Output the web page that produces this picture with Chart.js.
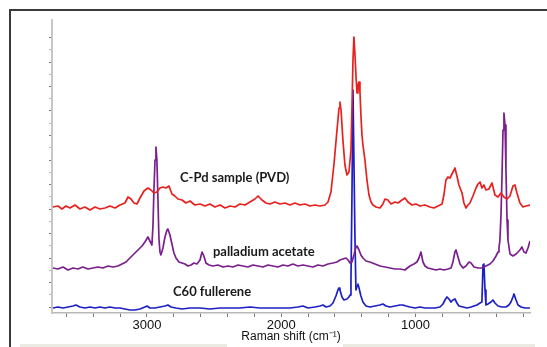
<!DOCTYPE html>
<html>
<head>
<meta charset="utf-8">
<script src="https://cdn.jsdelivr.net/npm/chart.js@4/dist/chart.umd.min.js"></script>
<style>
  html, body { margin: 0; padding: 0; background: #fff; }
  #wrap { position: relative; width: 547px; height: 347px; overflow: hidden; }
  #frame { position: absolute; left: 9px; top: 9px; width: 700px; height: 500px;
           border-top: 2px solid #3a3a3a; border-left: 2px solid #3a3a3a; }
  .shade { position: absolute; top: 344px; height: 3px; background: #ebebe4; }
  canvas { position: absolute; left: 0; top: 0; }
</style>
</head>
<body>
<div id="wrap">
  <div id="frame"></div>
  <div class="shade" style="left:20px;width:207px"></div>
  <div class="shade" style="left:343px;width:192px"></div>
  <canvas id="c" width="547" height="347"></canvas>
</div>
<script>
// ---- Data (Raman shift in cm-1, intensity in arbitrary offset units) ----
const redShift = [3700,3663,3633,3603,3573,3536,3499,3462,3424,3387,
  3350,3313,3276,3238,3201,3164,3141,3119,3097,3074,
  3052,3022,2993,2970,2948,2926,2903,2881,2859,2836,
  2814,2792,2769,2739,2710,2680,2643,2605,2568,2531,
  2494,2456,2419,2382,2345,2308,2270,2233,2196,2173,
  2144,2114,2084,2047,2010,1972,1935,1898,1861,1824,
  1786,1749,1712,1675,1652,1630,1608,1585,1570,1563,
  1555,1541,1526,1511,1496,1481,1474,1466,1459,1451,
  1444,1436,1429,1421,1414,1407,1399,1392,1377,1362,
  1347,1332,1317,1295,1265,1243,1228,1206,1183,1153,
  1131,1101,1079,1057,1027,997,967,930,893,863,
  833,803,789,774,759,744,729,714,707,692,
  677,654,640,625,610,595,573,550,535,520,
  506,491,476,454,431,409,386,364,342,319,
  297,275,260,245,223,200,178,148];
const redIntensity = [106,107,104,107,105,108,104,106,103,106,
  104,105,107,105,108,110,116,114,110,109,
  115,122,125,123,120,121,125,126,125,127,
  119,117,114,113,110,112,108,109,107,109,
  106,108,105,107,106,109,108,111,114,117,
  113,110,109,111,109,110,108,110,108,109,
  107,108,107,108,111,121,148,183,205,211,
  203,173,148,138,141,163,203,253,276,258,
  238,220,228,231,221,198,178,168,153,133,
  118,111,108,106,105,109,114,113,109,111,
  110,113,115,111,108,109,107,108,106,105,
  107,109,118,133,136,135,139,143,145,137,
  128,120,110,105,108,110,117,125,129,131,
  125,128,123,124,130,118,116,120,116,114,
  117,127,128,120,110,106,107,108];

const purpleShift = [3700,3663,3625,3588,3551,3514,3477,3439,3402,3365,
  3328,3290,3253,3216,3186,3156,3127,3097,3067,3037,
  3015,2993,2978,2963,2955,2948,2940,2933,2926,2918,
  2911,2903,2896,2881,2866,2851,2844,2829,2814,2799,
  2784,2762,2739,2717,2695,2672,2650,2628,2605,2590,
  2576,2561,2538,2509,2471,2434,2397,2360,2322,2285,
  2248,2211,2173,2136,2099,2062,2025,1987,1950,1913,
  1876,1838,1801,1764,1727,1689,1652,1615,1585,1563,
  1541,1518,1503,1488,1474,1459,1444,1436,1421,1407,
  1392,1369,1340,1302,1265,1228,1191,1153,1116,1079,
  1042,1012,990,975,960,945,930,908,878,848,
  818,789,759,736,722,707,699,684,669,647,
  625,602,587,565,535,506,476,446,424,401,
  386,379,372,364,357,349,342,334,327,319,
  312,297,275,252,237,223,208,193,178,163,
  148];
const purpleIntensity = [45,44,46,43,45,44,46,44,45,46,
  45,47,46,47,49,51,55,59,63,67,
  71,76,72,68,88,123,153,166,153,113,
  75,61,58,65,76,83,84,78,69,60,
  55,51,50,49,47,48,50,49,53,61,
  57,50,48,47,48,46,47,46,48,47,
  46,48,47,46,48,47,46,48,47,49,
  47,48,47,46,48,47,49,50,51,53,
  54,55,53,50,51,58,66,67,63,58,
  55,52,51,49,47,46,45,44,44,43,
  47,49,51,55,61,51,47,45,44,43,
  44,43,44,45,51,61,63,56,49,45,
  47,51,50,46,45,45,47,49,52,57,
  61,65,73,98,133,183,200,188,143,93,
  73,59,57,59,61,63,66,61,60,65,
  72];

const blueShift = [3700,3663,3625,3588,3551,3529,3499,3462,3424,3387,
  3350,3313,3276,3238,3201,3164,3127,3089,3052,3015,
  3000,2978,2940,2903,2866,2844,2821,2784,2739,2680,
  2605,2531,2456,2382,2308,2233,2159,2084,2010,1935,
  1876,1838,1801,1749,1712,1689,1667,1637,1615,1593,
  1578,1570,1563,1548,1533,1511,1496,1488,1481,1474,
  1466,1459,1451,1444,1436,1429,1421,1407,1392,1369,
  1340,1302,1265,1243,1220,1191,1153,1116,1094,1071,
  1042,1004,967,930,893,856,818,796,781,766,
  751,736,722,707,692,677,647,617,587,565,
  543,520,506,498,491,483,476,461,439,424,
  409,386,357,327,305,290,275,267,252,237,
  215,185,148];
const blueIntensity = [5,6,5,6,7,8,6,5,6,5,
  6,5,6,5,5,4,3,3,4,6,
  7,5,5,6,7,8,6,5,4,5,
  5,4,5,5,5,6,5,5,5,5,
  6,7,5,6,7,8,6,7,10,17,
  23,25,23,16,13,14,16,18,33,113,
  223,153,73,23,27,29,25,17,11,7,
  6,7,8,9,7,6,7,8,8,7,
  6,5,6,5,5,5,6,9,13,16,
  14,11,13,14,10,7,6,5,6,7,
  8,10,11,48,49,23,8,9,11,13,
  10,7,6,6,8,11,16,19,13,8,
  6,5,5];

const xTickValues = [3600,3400,3200,3000,2800,2600,2400,2200,2000,1800,1600,1400,1200,1000,800,600,400,200];
const xTickLabels = [3000, 2000, 1000];

const seriesNames = ['C-Pd sample (PVD)', 'palladium acetate', 'C60 fullerene'];
const seriesColors = ['#e8201e', '#7a1f8c', '#1c1fc4'];
const labelShift = [2754, 2509, 2806];
const labelLevel = [131, 57, 17];

// ---- helpers ----
const toPoints = (xs, ys) => xs.map((x, i) => ({ x: x, y: ys[i] }));

const labelPlugin = {
  id: 'seriesLabels',
  afterDatasetsDraw(chart) {
    const { ctx, scales } = chart;
    ctx.save();
    ctx.font = 'bold 13px Lato, "Open Sans", sans-serif';
    ctx.fillStyle = '#1a1a1a';
    ctx.textAlign = 'left';
    ctx.textBaseline = 'alphabetic';
    seriesNames.forEach((t, i) => {
      ctx.fillText(t, scales.x.getPixelForValue(labelShift[i]), scales.y.getPixelForValue(labelLevel[i]));
    });
    ctx.restore();
  }
};

new Chart(document.getElementById('c'), {
  type: 'line',
  data: {
    datasets: [
      { label: seriesNames[0], data: toPoints(redShift, redIntensity), borderColor: seriesColors[0] },
      { label: seriesNames[1], data: toPoints(purpleShift, purpleIntensity), borderColor: seriesColors[1] },
      { label: seriesNames[2], data: toPoints(blueShift, blueIntensity), borderColor: seriesColors[2] }
    ]
  },
  options: {
    responsive: false,
    animation: false,
    layout: { padding: { left: 49, right: 17, top: 20, bottom: 0 } },
    elements: { point: { radius: 0 }, line: { borderWidth: 1.7, tension: 0, fill: false, borderJoinStyle: 'round' } },
    plugins: { legend: { display: false }, tooltip: { enabled: false } },
    scales: {
      x: {
        type: 'linear',
        reverse: true,
        min: 148,
        max: 3707,
        afterBuildTicks: s => { s.ticks = xTickValues.map(v => ({ value: v })); },
        afterFit: s => { s.height = 34; },
        grid: { drawOnChartArea: false, tickLength: 4, tickColor: '#777', lineWidth: 1 },
        border: { color: '#b8b8b8', width: 1.5 },
        ticks: {
          autoSkip: false, maxRotation: 0, padding: 1, color: '#111',
          font: { family: '"Liberation Sans", Arial, sans-serif', size: 13 },
          callback: v => xTickLabels.includes(v) ? String(v) : ''
        },
        title: {
          display: true, text: 'Raman shift (cm\u207B\u00B9)', color: '#111',
          font: { family: '"Liberation Sans", Arial, sans-serif', size: 12 },
          padding: { top: 0, bottom: 3 }
        }
      },
      y: {
        min: 0,
        max: 293,
        afterBuildTicks: s => {
          const t = [];
          for (let v = 275.5; v > 0; v -= 12.25) t.push({ value: v });
          s.ticks = t;
        },
        afterFit: s => { s.width = 3; },
        ticks: { display: false },
        grid: {
          drawOnChartArea: false, tickLength: 3,
          tickColor: c => (c.index % 2 === 0 ? '#777' : '#bbb')
        },
        border: { color: '#c6c6c6', width: 2 }
      }
    }
  },
  plugins: [labelPlugin]
});
</script>
</body>
</html>
